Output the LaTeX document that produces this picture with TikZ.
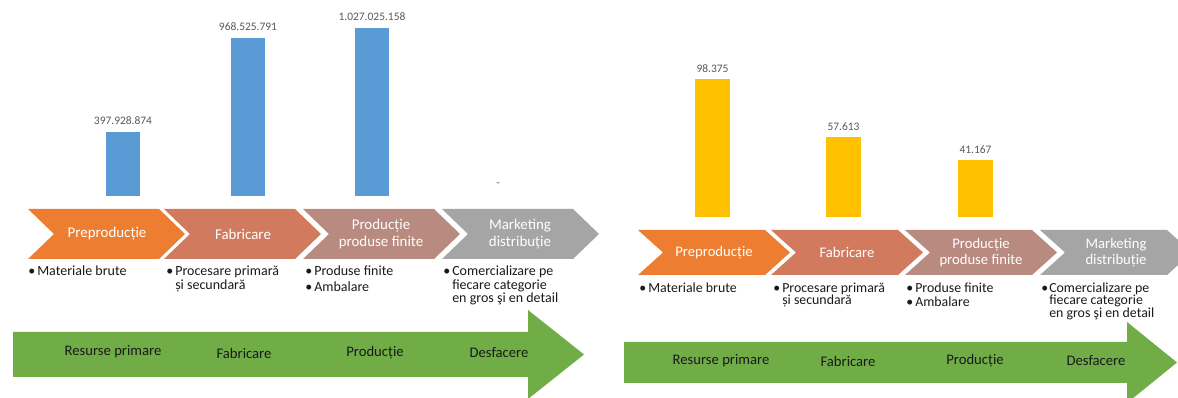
\documentclass[tikz,border=0pt]{standalone}
\usepackage{fontspec}
\setmainfont{Carlito}
\definecolor{cBlue}{HTML}{5B9BD5}
\definecolor{cYel}{HTML}{FFC000}
\definecolor{cOr}{HTML}{ED7D31}
\definecolor{cFa}{HTML}{D27A5D}
\definecolor{cPr}{HTML}{B88A80}
\definecolor{cMk}{HTML}{A5A5A5}
\definecolor{cGr}{HTML}{70AD47}
\definecolor{lblgray}{HTML}{595959}
\definecolor{txtdark}{HTML}{1A1A1A}
\tikzset{
  barlbl/.style={font=\fontsize{8.6}{10}\selectfont, text=lblgray, inner sep=0pt},
  chevtxt/.style={font=\fontsize{11.2}{12.5}\selectfont, text=white, align=center, inner sep=0pt},
  chevtxtR/.style={font=\fontsize{11}{12}\selectfont, text=white, align=center, inner sep=0pt},
  bul/.style={font=\fontsize{10.5}{12}\selectfont, text=txtdark, inner sep=0pt, anchor=base west},
  bulR/.style={font=\fontsize{10.4}{12}\selectfont, text=txtdark, inner sep=0pt, anchor=base west},
  greentxt/.style={font=\fontsize{11}{13}\selectfont, text=txtdark, inner sep=0pt},
}
\begin{document}
\begin{tikzpicture}[x=0.75pt,y=-0.75pt]
\useasboundingbox (0,0) rectangle (1178,398);
\clip (0,0) rectangle (1178,398);
\fill[white] (0,0) rectangle (1178,398);
% ---------------- LEFT PANEL ----------------
\fill[cBlue] (106,132) rectangle (140,196);
\fill[cBlue] (231,38) rectangle (265,196);
\fill[cBlue] (355,28) rectangle (389,196);
\node[barlbl] (lA) at (123,121) {397.928.874};
\node[barlbl] (lB) at (248,27) {968.525.791};
\node[barlbl] (lC) at (372,17) {1.027.025.158};
\node[barlbl] (lD) at (498,185) {-};
\foreach \L/\c in {28/cOr,164/cFa,303/cPr,442/cMk}
  \fill[\c] (\L,209) -- ({\L+131},209) -- ({\L+157},234) -- ({\L+131},259) -- (\L,259) -- ({\L+26},234) -- cycle;
\node[chevtxt] (cA) at (107,234) {Preproducție};
\node[chevtxt] (cB) at (243,234) {Fabricare};
\node[chevtxt] (cC) at (381,234) {Producție\\produse finite};
\node[chevtxt] (cD) at (520,234) {Marketing\\distribuție};
\node[bul] (b1) at (28,276) {•};
\node[bul] (t1) at (37,276) {Materiale brute};
\node[bul] (b2) at (166,276) {•};
\node[bul] (t2) at (175,276) {Procesare primară};
\node[bul] (t2b) at (175,290) {și secundară};
\node[bul] (b3) at (305,276) {•};
\node[bul] (t3) at (314,276) {Produse finite};
\node[bul] (b3b) at (305,292) {•};
\node[bul] (t3b) at (314,292) {Ambalare};
\node[bul] (b4) at (443,276) {•};
\node[bul] (t4) at (452,276) {Comercializare pe};
\node[bul] (t4b) at (452,290) {fiecare categorie};
\node[bul] (t4c) at (452,303) {en gros şi en detail};
\fill[cGr] (13,332) -- (528,332) -- (528,310) -- (584,354.5) -- (528,399) -- (528,377) -- (13,377) -- cycle;
\node[greentxt] (gA) at (113,352) {Resurse primare};
\node[greentxt] (gB) at (244,353) {Fabricare};
\node[greentxt] (gC) at (375,353) {Producție};
\node[greentxt] (gD) at (499,353) {Desfacere};
% ---------------- RIGHT PANEL ----------------
\fill[cYel] (695,79) rectangle (730,217);
\fill[cYel] (826,137) rectangle (861,217);
\fill[cYel] (958,160) rectangle (993,217);
\node[barlbl] (rA) at (712.5,69) {98.375};
\node[barlbl] (rB) at (843.5,127) {57.613};
\node[barlbl] (rC) at (975.5,150) {41.167};
\foreach \L/\c in {638/cOr,771/cFa,905/cPr,1040/cMk}
  \fill[\c] (\L,230) -- ({\L+127},230) -- ({\L+152},252.5) -- ({\L+127},275) -- (\L,275) -- ({\L+25},252.5) -- cycle;
\node[chevtxtR] (dA) at (714,252.5) {Preproducție};
\node[chevtxtR] (dB) at (847,252.5) {Fabricare};
\node[chevtxtR] (dC) at (981,252.5) {Producție\\produse finite};
\node[chevtxtR] (dD) at (1116,252.5) {Marketing\\distribuție};
\node[bulR] (q1) at (639,292.5) {•};
\node[bulR] (s1) at (648,292.5) {Materiale brute};
\node[bulR] (q2) at (773,292.5) {•};
\node[bulR] (s2) at (782,292.5) {Procesare primară};
\node[bulR] (s2b) at (782,305) {și secundară};
\node[bulR] (q3) at (906,292.5) {•};
\node[bulR] (s3) at (915,292.5) {Produse finite};
\node[bulR] (q3b) at (906,307) {•};
\node[bulR] (s3b) at (915,307) {Ambalare};
\node[bulR] (q4) at (1041,292.5) {•};
\node[bulR] (s4) at (1049,292.5) {Comercializare pe};
\node[bulR] (s4b) at (1049,305) {fiecare categorie};
\node[bulR] (s4c) at (1049,317.5) {en gros şi en detail};
\fill[cGr] (624,342) -- (1127,342) -- (1127,322) -- (1177,362.5) -- (1127,403) -- (1127,383) -- (624,383) -- cycle;
\node[greentxt] (hA) at (721,361) {Resurse primare};
\node[greentxt] (hB) at (848,361) {Fabricare};
\node[greentxt] (hC) at (975,361) {Producție};
\node[greentxt] (hD) at (1096,361) {Desfacere};
\end{tikzpicture}
\end{document}
